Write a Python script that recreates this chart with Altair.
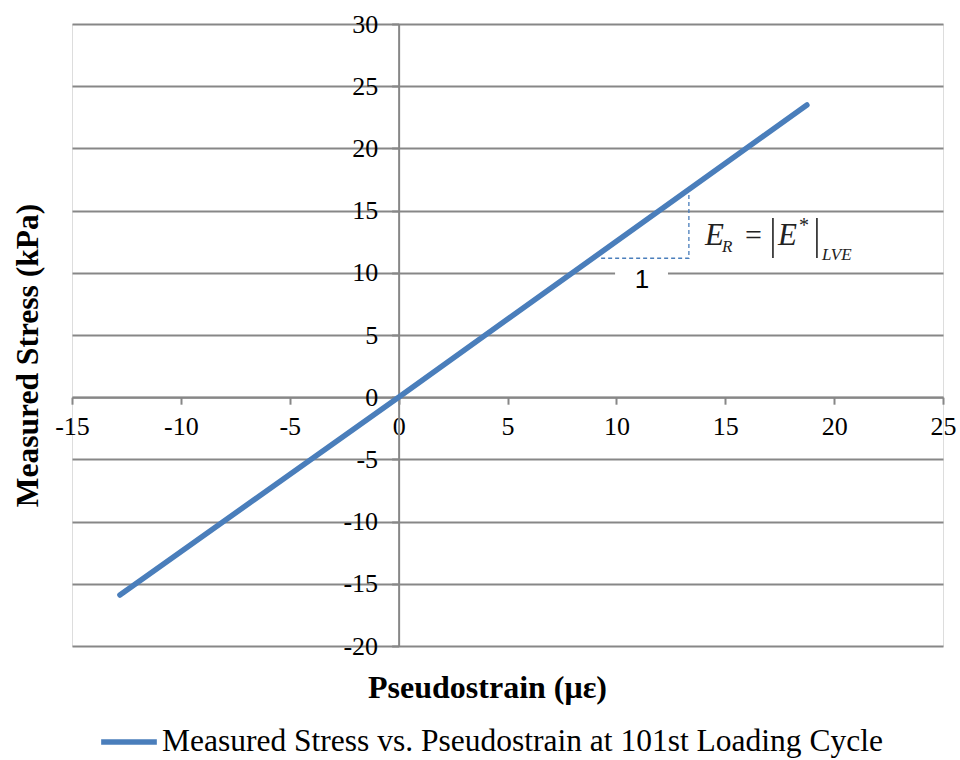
import altair as alt
import pandas as pd

# ---- data ----
strain = [-12.8, 0.0, 18.75]
stress = [-15.9, 0.0, 23.49]
series_name = "Measured Stress vs. Pseudostrain at 101st Loading Cycle"

tri_x = [9.3, 13.33, 13.33]
tri_y = [11.17, 11.17, 16.62]

x_ticks = [-15, -10, -5, 0, 5, 10, 15, 20, 25]
y_ticks = [-20, -15, -10, -5, 0, 5, 10, 15, 20, 25, 30]

W, H = 871, 622
GRAY = "#878787"
BLUE = "#4a7ebb"
SERIF = "Liberation Serif"
LBL = "datum.value < 0 ? '-' + abs(datum.value) : '' + datum.value"

xs = alt.Scale(domain=[-15, 25], nice=False, zero=False)
ys = alt.Scale(domain=[-20, 30], nice=False, zero=False)

df = pd.DataFrame({"x": strain, "y": stress, "s": [series_name] * len(strain)})

base_x = alt.X("x:Q", scale=xs, axis=alt.Axis(
    values=x_ticks, grid=False, offset=-H * 20 / 50, domainColor=GRAY, domainWidth=2,
    tickColor=GRAY, tickWidth=2, tickSize=7, labelFont=SERIF, labelFontSize=26,
    labelColor="black", labelPadding=9, labelFlush=False, labelOverlap=False,
    labelExpr=LBL,
    title="Pseudostrain (\u03bc\u03b5)", titleFont=SERIF, titleFontSize=32,
    titleFontWeight="bold", titleColor="black", titleX=415, titleY=300,
    titleBaseline="alphabetic", titleAnchor="middle"))
base_y = alt.Y("y:Q", scale=ys, axis=alt.Axis(
    values=y_ticks, grid=True, gridColor=GRAY, gridWidth=2, offset=-W * 15 / 40,
    domainColor=GRAY, domainWidth=2, tickColor=GRAY, tickWidth=2, tickSize=7,
    labelFont=SERIF, labelFontSize=26, labelColor="black", labelPadding=14,
    labelFlush=False, labelOverlap=False, labelExpr=LBL,
    title="Measured Stress (kPa)", titleFont=SERIF, titleFontSize=31.5,
    titleFontWeight="bold", titleColor="black", titleX=-361, titleY=331,
    titleBaseline="alphabetic", titleAngle=270))

line = alt.Chart(df).mark_line(strokeWidth=5.5, strokeCap="round").encode(
    x=base_x, y=base_y,
    color=alt.Color("s:N", scale=alt.Scale(range=[BLUE]), legend=alt.Legend(
        title=None, orient="none", legendX=26, legendY=687, symbolType="stroke",
        symbolSize=3100, symbolStrokeWidth=5.5, labelFont=SERIF, labelFontSize=31.5,
        labelColor="black", labelOffset=2, labelLimit=900, padding=0)))

# white box behind the "1" label
box_df = pd.DataFrame({"x": [9.94], "x2": [12.37], "y": [10.5], "y2": [7.9]})
box = alt.Chart(box_df).mark_rect(color="white").encode(
    x=alt.X("x:Q", scale=xs), x2="x2", y=alt.Y("y:Q", scale=ys), y2="y2")

tri_df = pd.DataFrame({"x": tri_x, "y": tri_y, "o": [0, 1, 2]})
tri = alt.Chart(tri_df).mark_line(strokeWidth=1.3, strokeDash=[4, 3], color=BLUE).encode(
    x=alt.X("x:Q", scale=xs), y=alt.Y("y:Q", scale=ys), order="o:Q")

one_df = pd.DataFrame({"x": [11.18], "y": [9.42], "t": ["1"]})
one = alt.Chart(one_df).mark_text(font="Liberation Sans", fontSize=26, baseline="middle",
                                  align="center", color="black").encode(
    x=alt.X("x:Q", scale=xs), y=alt.Y("y:Q", scale=ys), text="t:N")

# formula  E_R = |E*|_LVE
f_big = pd.DataFrame({"x": [14.07, 17.42], "y": [12.23, 12.23], "t": ["E", "E"]})
f_eq = pd.DataFrame({"x": [15.91], "y": [12.23], "t": ["="]})
f_sub = pd.DataFrame({"x": [14.85, 19.44], "y": [11.67, 11.03], "t": ["R", "LVE"]})
f_star = pd.DataFrame({"x": [18.39], "y": [13.3], "t": ["*"]})
bars = pd.DataFrame({"x": [17.19, 19.21], "y": [14.4, 14.4], "y2": [11.19, 11.19]})

def ftext(d, size, style="italic"):
    return alt.Chart(d).mark_text(font=SERIF, fontSize=size, fontStyle=style, align="left",
                                  baseline="alphabetic", color="#222222").encode(
        x=alt.X("x:Q", scale=xs), y=alt.Y("y:Q", scale=ys), text="t:N")

bar_rules = alt.Chart(bars).mark_rule(strokeWidth=1.6, color="#222222").encode(
    x=alt.X("x:Q", scale=xs), y=alt.Y("y:Q", scale=ys), y2="y2")

chart = alt.layer(
    line, box, tri, one,
    ftext(f_big, 31), ftext(f_eq, 30, "normal"), ftext(f_sub, 17), ftext(f_star, 20, "normal"),
    bar_rules,
).properties(
    width=W, height=H,
    padding={"left": 72, "top": 24, "right": 17, "bottom": 114},
    autosize=alt.AutoSizeParams(type="none"),
).configure_view(stroke=None).configure(background="white")

chart.save("out.html", embed_options={"renderer": "svg", "actions": False})
